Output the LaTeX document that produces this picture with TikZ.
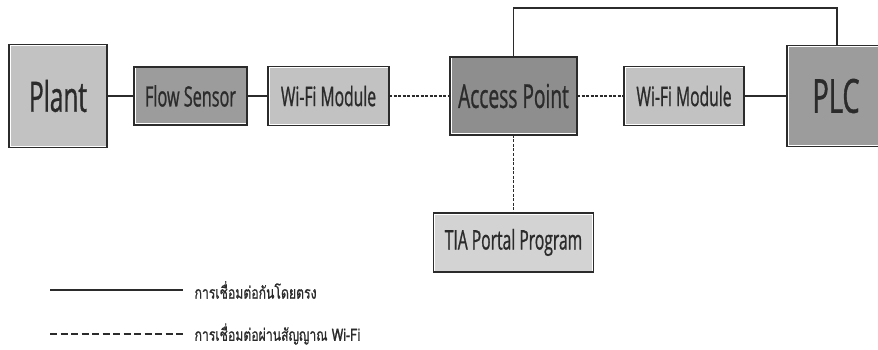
\documentclass[tikz,border=0pt]{standalone}
\usepackage{fontspec}
\setmainfont{Open Sans}[FakeStretch=0.58,FakeBold=0.8]
\newfontfamily\thaifont[Script=Thai,FakeStretch=0.72,FakeBold=0.8]{Loma}
\usetikzlibrary{positioning}
\definecolor{ink}{HTML}{2B2B2B}
\definecolor{lightgrey}{HTML}{C2C2C2}
\definecolor{midgrey}{HTML}{9C9C9C}
\definecolor{darkgrey}{HTML}{8E8E8E}
\definecolor{palegrey}{HTML}{D3D3D3}
\tikzset{
  box/.style   ={draw=ink,line width=1.6pt,inner sep=0pt,outer sep=0pt,align=center,text=ink,
                 path picture={\draw[white,line width=3pt]
                   (path picture bounding box.south west) rectangle
                   (path picture bounding box.north east);}},
  wire/.style  ={draw=ink,line width=1.5pt},
  radio/.style ={draw=ink,line width=1.5pt,dash pattern=on 3pt off 1.5pt},
  keydash/.style={draw=ink,line width=1.2pt,dash pattern=on 7pt off 3.5pt},
  keytext/.style={right=11pt,font=\thaifont\fontsize{17}{19}\selectfont,text=ink,inner sep=0pt}
}
\begin{document}
\begin{tikzpicture}[x=1pt,y=-1pt,node distance=20pt]
  \useasboundingbox (0,0) rectangle (878,350);
  % blocks
  \node[box,fill=lightgrey,minimum width=98pt,minimum height=103pt,font=\fontsize{42}{44}\selectfont]
       (plant) at (58,96) {Plant};
  \node[box,fill=midgrey,minimum width=113pt,minimum height=58pt,font=\fontsize{28}{30}\selectfont,
        right=27pt of plant] (sensor) {Flow Sensor};
  \node[box,fill=lightgrey,minimum width=121pt,minimum height=59pt,font=\fontsize{27}{29}\selectfont,
        right=21pt of sensor] (wifia) {Wi-Fi Module};
  \node[box,fill=darkgrey,minimum width=127pt,minimum height=78pt,font=\fontsize{33}{35}\selectfont,
        right=61pt of wifia] (ap) {Access Point};
  \node[box,fill=lightgrey,minimum width=120pt,minimum height=59pt,font=\fontsize{27}{29}\selectfont,
        right=47pt of ap] (wifib) {Wi-Fi Module};
  \node[box,fill=midgrey,minimum width=98pt,minimum height=101pt,font=\fontsize{47}{49}\selectfont,
        right=43pt of wifib] (plc) {PLC};
  \node[box,fill=palegrey,minimum width=160pt,minimum height=59pt,font=\fontsize{27}{29}\selectfont,
        below=78pt of ap] (tia) {TIA Portal Program};
  % links
  \draw[wire] (plant) -- (sensor);
  \draw[wire] (sensor) -- (wifia);
  \draw[radio] (wifia) -- (ap);
  \draw[radio] (ap) -- (wifib);
  \draw[wire] (wifib) -- (plc);
  \draw[radio] (ap) -- (tia);
  \draw[wire] (ap.north) -- ++(0,-49) -| ([xshift=1pt]plc.north);
  % legend
  \coordinate (solidA) at (50,290);
  \coordinate (solidB) at (183,290);
  \coordinate (dashA) at (50,334);
  \coordinate (dashB) at (183,334);
  \draw[wire,line width=1.2pt] (solidA) -- (solidB)
    node[keytext] (keysolid) {การเชื่อมต่อกันโดยตรง};
  \draw[keydash] (dashA) -- (dashB)
    node[keytext] (keywifi) {การเชื่อมต่อผ่านสัญญาณ Wi-Fi};
\end{tikzpicture}
\end{document}
